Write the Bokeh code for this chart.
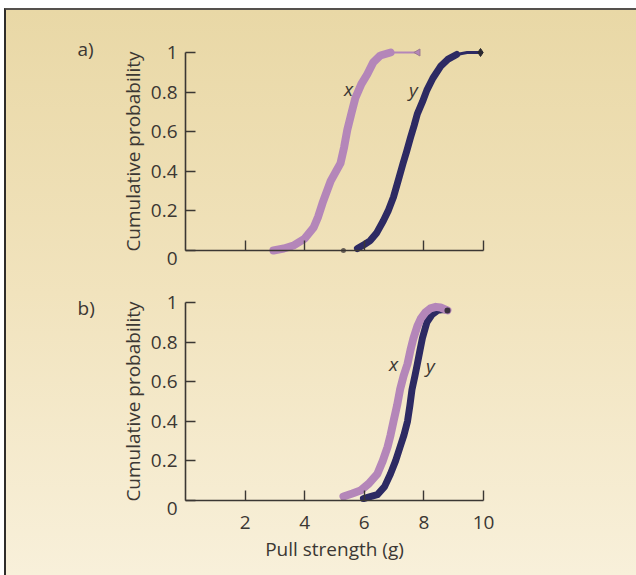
from bokeh.plotting import figure
from bokeh.layouts import column
from bokeh.models import FixedTicker, Range1d, CustomJSTickFormatter
from bokeh.embed import file_html
from bokeh.resources import INLINE
from bokeh.core.properties import value

# ---- data ----
# panel a
a_x_strength = [2.95, 3.3, 3.62, 4.0, 4.30, 4.45, 4.6, 4.87, 5.05, 5.2, 5.32, 5.43, 5.58, 5.7, 5.9, 6.1, 6.3, 6.54, 6.88]
a_x_prob     = [0.0, 0.01, 0.025, 0.06, 0.116, 0.17, 0.24, 0.35, 0.40, 0.44, 0.52, 0.61, 0.70, 0.77, 0.84, 0.89, 0.95, 0.985, 1.0]
a_x_tail_strength = [6.88, 7.8]
a_x_tail_prob     = [1.0, 1.0]
a_y_strength = [5.77, 6.0, 6.2, 6.42, 6.64, 6.8, 6.98, 7.15, 7.3, 7.42, 7.55, 7.67, 7.78, 7.95, 8.1, 8.3, 8.56, 8.8, 9.1]
a_y_prob     = [0.01, 0.03, 0.05, 0.09, 0.15, 0.20, 0.27, 0.36, 0.44, 0.50, 0.57, 0.63, 0.69, 0.75, 0.81, 0.87, 0.93, 0.965, 0.99]
a_y_tail_strength = [9.1, 9.45, 9.9]
a_y_tail_prob     = [0.99, 1.0, 1.0]
a_dot_strength = [5.3]
a_dot_prob = [0.0]

# panel b
b_x_strength = [5.3, 5.6, 5.87, 6.15, 6.44, 6.62, 6.78, 6.88, 6.98, 7.1, 7.2, 7.32, 7.45, 7.55, 7.65, 7.78, 7.9, 8.05, 8.22, 8.4, 8.56, 8.79]
b_x_prob     = [0.02, 0.035, 0.05, 0.085, 0.135, 0.20, 0.27, 0.33, 0.40, 0.48, 0.56, 0.63, 0.69, 0.76, 0.82, 0.88, 0.92, 0.95, 0.97, 0.978, 0.975, 0.96]
b_y_strength = [5.97, 6.2, 6.44, 6.68, 6.88, 7.05, 7.2, 7.33, 7.45, 7.53, 7.6, 7.7, 7.78, 7.87, 7.95, 8.1, 8.28, 8.46, 8.65, 8.79]
b_y_prob     = [0.01, 0.02, 0.03, 0.07, 0.135, 0.20, 0.27, 0.33, 0.40, 0.48, 0.56, 0.63, 0.69, 0.76, 0.82, 0.90, 0.94, 0.96, 0.965, 0.96]

y_ticks = [0, 0.2, 0.4, 0.6, 0.8, 1]
x_ticks = [2, 4, 6, 8, 10]
x_tick_labels_b = ["2", "4", "6", "8", "10"]
curve_names = ["x", "y"]

PINK = "#b486b9"
NAVY = "#2d2a63"
INK = "#3b3733"
FONT = "Open Sans"
FS = "19px"

# pixel layout: data x=0 at page x 185, 29.8 px per unit; 198 px per unit of probability
FIG_W = 630
X_RANGE = (-6.0067, 15.134)


def make_panel(height, y_range, show_x_labels, panel_label, label_pos):
    p = figure(width=FIG_W, height=height,
               x_range=Range1d(*X_RANGE), y_range=Range1d(*y_range),
               output_backend="svg", toolbar_location=None,
               min_border=0, min_border_left=0, min_border_right=0,
               min_border_top=0, min_border_bottom=0)
    p.background_fill_alpha = 0
    p.border_fill_alpha = 0
    p.outline_line_color = None
    p.grid.visible = False

    for ax in (p.xaxis[0], p.yaxis[0]):
        ax.fixed_location = 0
        ax.axis_line_color = INK
        ax.axis_line_width = 1.6
        ax.major_tick_line_color = INK
        ax.major_tick_line_width = 1.4
        ax.major_tick_in = 10
        ax.major_tick_out = 0
        ax.minor_tick_line_color = None
        ax.major_label_text_font = FONT
        ax.major_label_text_font_size = FS
        ax.major_label_text_color = INK
        ax.axis_label_text_font = FONT
        ax.axis_label_text_font_size = FS
        ax.axis_label_text_font_style = "normal"
        ax.axis_label_text_color = INK

    xa = p.xaxis[0]
    xa.bounds = (0, 10)
    xa.ticker = FixedTicker(ticks=x_ticks)
    if show_x_labels:
        xa.major_label_overrides = {float(t): s for t, s in zip(x_ticks, x_tick_labels_b)}
        xa.major_label_standoff = 15
        xa.axis_label = "Pull strength (g)"
        xa.axis_label_standoff = 4
    else:
        xa.formatter = CustomJSTickFormatter(code="return '';")

    ya = p.yaxis[0]
    ya.bounds = (0, 1)
    ya.ticker = FixedTicker(ticks=y_ticks)
    ya.formatter = CustomJSTickFormatter(
        code="if (tick == 0) {return '';} if (tick == 1) {return '1';} return tick.toFixed(1);")
    ya.major_label_standoff = 8
    ya.axis_label = "Cumulative probability"
    ya.axis_label_standoff = 2

    # the "0" tick label sits a little below the axis, and the panel letter
    p.text(x=[-0.268], y=[-0.0404], text=["0"], text_font=value(FONT), text_font_size=FS,
           text_color=INK, text_align="right", text_baseline="middle")
    p.text(x=[label_pos[0]], y=[label_pos[1]], text=[panel_label], text_font=value(FONT),
           text_font_size=FS, text_color=INK, text_align="left", text_baseline="middle")
    return p


pa = make_panel(265, (-0.1263, 1.2121), False, "a)", (-3.624, 1.02))
pa.line(a_x_tail_strength, a_x_tail_prob, line_color=PINK, line_width=2)
pa.scatter([a_x_tail_strength[-1]], [a_x_tail_prob[-1]], marker="triangle", angle=1.5708,
           size=7, fill_color=PINK, line_color="#9c7a8f")
pa.line(a_x_strength, a_x_prob, line_color=PINK, line_width=8, line_cap="round", line_join="round")
pa.line(a_y_tail_strength, a_y_tail_prob, line_color=NAVY, line_width=3)
pa.scatter([a_y_tail_strength[-1]], [a_y_tail_prob[-1]], marker="diamond", size=8,
           fill_color="#2a2830", line_color="#2a2830")
pa.line(a_y_strength, a_y_prob, line_color=NAVY, line_width=7, line_cap="round", line_join="round")
pa.scatter(a_dot_strength, a_dot_prob, size=5, fill_color="#6a6258", line_color=None)
pa.text(x=[5.47, 7.65], y=[0.818, 0.813], text=curve_names, text_font=value(FONT),
        text_font_style="italic", text_font_size=FS, text_color=INK,
        text_align="center", text_baseline="middle")

pb = make_panel(300, (-0.3788, 1.1364), True, "b)", (-3.624, 0.97))
pb.line(b_y_strength, b_y_prob, line_color=NAVY, line_width=7, line_cap="round", line_join="round")
pb.line(b_x_strength, b_x_prob, line_color=PINK, line_width=8, line_cap="round", line_join="round")
pb.scatter([b_y_strength[-1]], [b_y_prob[-1]], size=6, fill_color="#3a3040", line_color=None)
pb.text(x=[6.98, 8.22], y=[0.69, 0.68], text=curve_names, text_font=value(FONT),
        text_font_style="italic", text_font_size=FS, text_color=INK,
        text_align="center", text_baseline="middle")

layout = column(pa, pb, spacing=0,
                styles={"background": "linear-gradient(180deg, #e9d8a6 0%, #f1e3bd 50%, #f8f0da 100%)",
                        "border-top": "2px solid #55514d",
                        "border-left": "2px solid #2f2d2b",
                        "margin-top": "8px",
                        "margin-left": "4px"})

open("out.html", "w").write(file_html(layout, INLINE))
